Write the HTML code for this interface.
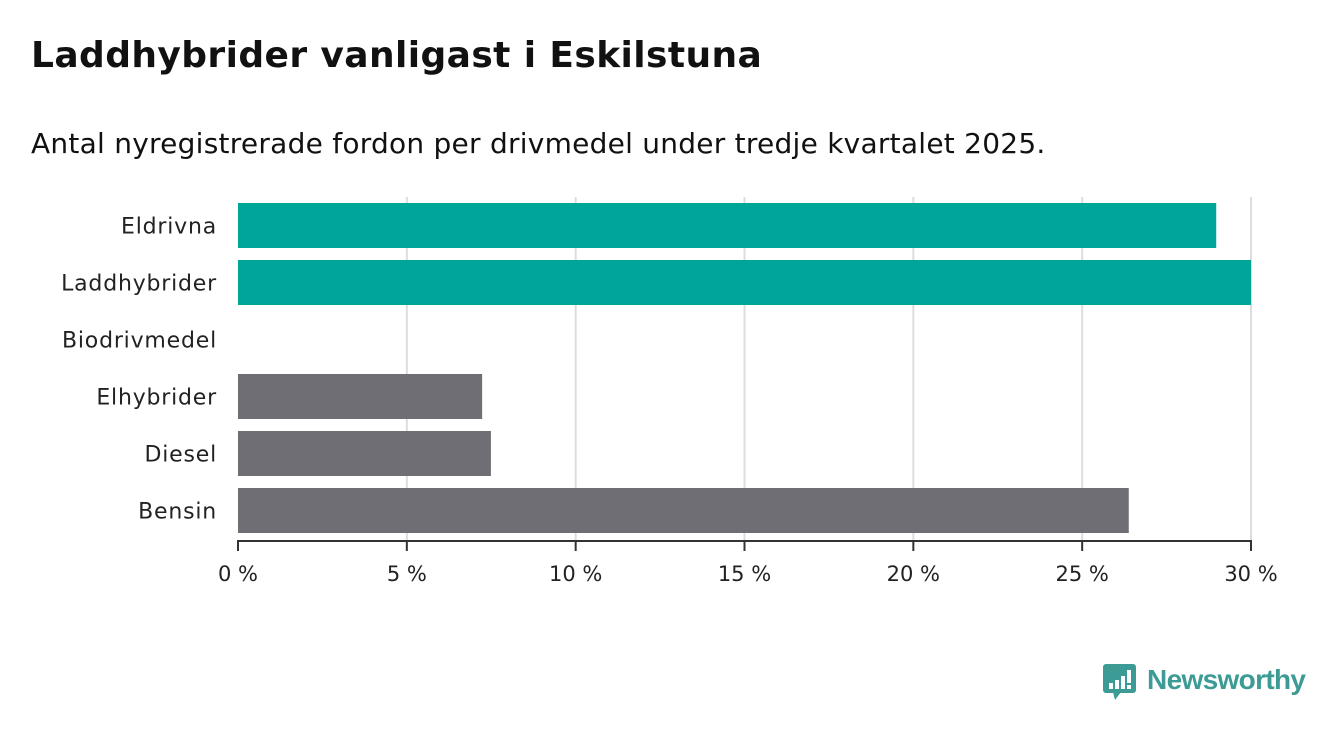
<!DOCTYPE html>
<html><head><meta charset="utf-8"><style>
body{margin:0;width:1340px;height:733px;background:#fff;font-family:"DejaVu Sans","Liberation Sans",sans-serif;overflow:hidden;position:relative}
h1{position:absolute;left:31px;top:35px;margin:0;font-size:36px;font-weight:bold;color:#111;letter-spacing:0.4px}
p.sub{position:absolute;left:31px;top:127px;margin:0;font-size:28px;color:#111;letter-spacing:0.25px}
svg{position:absolute;left:0;top:0}
</style></head><body>
<h1>Laddhybrider vanligast i Eskilstuna</h1>
<p class="sub">Antal nyregistrerade fordon per drivmedel under tredje kvartalet 2025.</p>
<svg id="chart" width="1340" height="733">
<g id="logo">
<rect x="1103" y="664" width="33" height="29" rx="3" fill="#3c9c95"/>
<polygon points="1113,692 1121,692 1115,700" fill="#3c9c95"/>
<rect x="1109" y="683" width="4" height="6" fill="#fff"/><rect x="1115" y="680" width="4" height="9" fill="#fff"/><rect x="1121" y="676" width="4" height="13" fill="#fff"/><rect x="1127" y="670" width="4" height="13" fill="#fff"/><rect x="1127" y="685" width="4" height="4" fill="#fff"/>
<text x="1147" y="689" font-size="28" font-weight="bold" fill="#3c9c95" font-family="Liberation Sans, sans-serif" textLength="159">Newsworthy</text>
</g>
</svg>
<script>
const categories=["Eldrivna","Laddhybrider","Biodrivmedel","Elhybrider","Diesel","Bensin"];
const values=[28.97,30.0,0,7.23,7.49,26.38];
const colors=["#00a59a","#00a59a","#00a59a","#6f6e74","#6f6e74","#6f6e74"];
const ticks=[0,5,10,15,20,25,30];
const tickLabels=["0 %","5 %","10 %","15 %","20 %","25 %","30 %"];
const svg=document.getElementById('chart');
const NS='http://www.w3.org/2000/svg';
const x0=238,x1=1251,xmax=30,top0=197,axisY=541,pitch=57,barH=45,firstY=203;
const xs=v=>x0+(v/xmax)*(x1-x0);
const ys=i=>firstY+i*pitch;
function mk(t,a){const e=document.createElementNS(NS,t);for(const k in a)e.setAttribute(k,a[k]);svg.appendChild(e);return e;}
ticks.forEach((t,i)=>{
 if(t>0){const g=mk('line',{x1:xs(t),x2:xs(t),y1:top0,y2:axisY,stroke:'#dddddd','stroke-width':2});
 
 }
 const tk=mk('line',{x1:xs(t),x2:xs(t),y1:axisY,y2:axisY+10,stroke:'#333','stroke-width':2});
 
 
 const l=mk('text',{x:xs(t),y:581,'text-anchor':'middle','font-size':21,fill:'#222','font-family':'DejaVu Sans, sans-serif'});
 l.textContent=tickLabels[i];
 
 
});
categories.forEach((c,i)=>{
 const r=mk('rect',{x:x0,y:ys(i),width:Math.max(0,xs(values[i])-x0),height:barH,fill:colors[i]});
 
 
 const l=mk('text',{x:217,y:ys(i)+barH/2+8,'text-anchor':'end','font-size':22,fill:'#222','font-family':'DejaVu Sans, sans-serif','letter-spacing':0.8});
 l.textContent=c;
 
 
});
const ax=mk('line',{x1:x0-1,x2:x1+1,y1:axisY,y2:axisY,stroke:'#333','stroke-width':2});


</script>
</body></html>
